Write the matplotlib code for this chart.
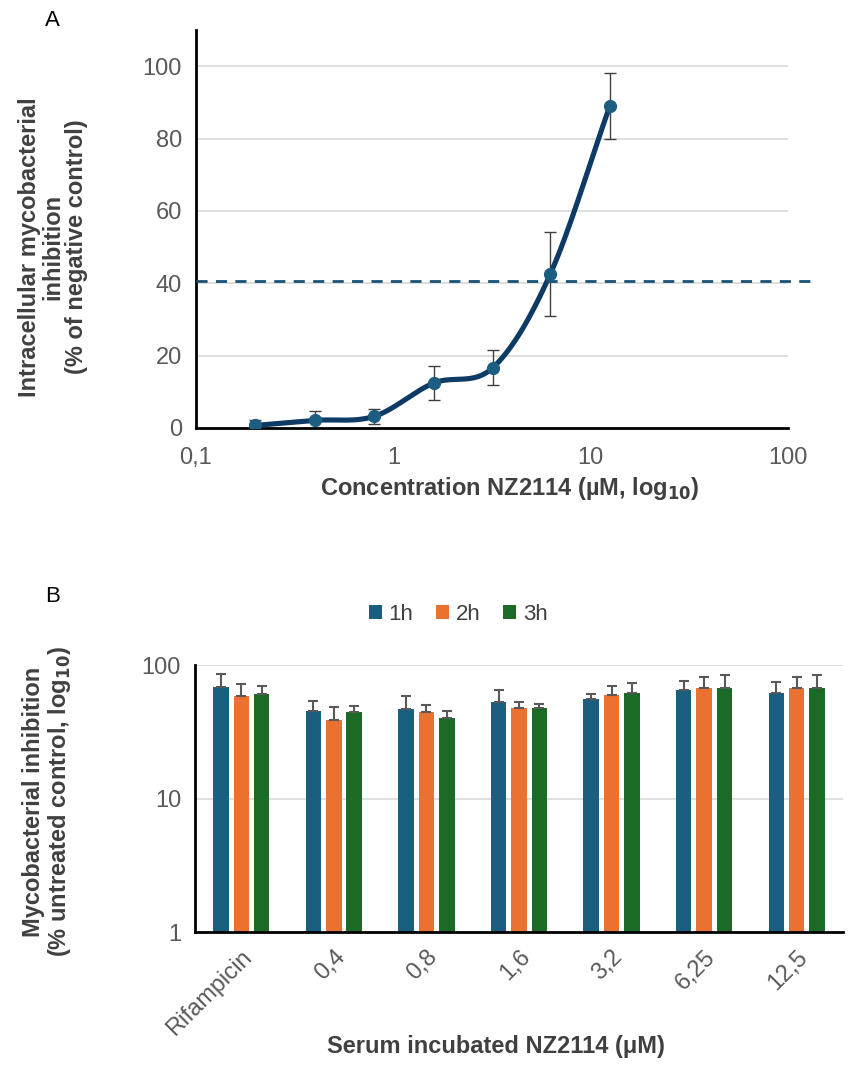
import matplotlib
matplotlib.use('Agg')
import matplotlib.pyplot as plt
import numpy as np

plt.rcParams['font.family'] = ['Liberation Sans', 'DejaVu Sans']

# panel A: dose response
conc = [0.2, 0.4, 0.8, 1.6, 3.2, 6.25, 12.5]
inhib = [0.7, 2.1, 3.2, 12.4, 16.7, 42.6, 89.0]
inhib_sd = [1.6, 2.7, 2.0, 4.6, 4.8, 11.7, 9.1]
threshold = 40.6

# panel B: serum incubated, log scale
groups = ['Rifampicin', '0,4', '0,8', '1,6', '3,2', '6,25', '12,5']
series = ['1h', '2h', '3h']
h1 = [68.5, 45.5, 46.9, 53.0, 56.1, 65.3, 62.0]
h2 = [59.0, 38.9, 44.5, 48.0, 59.2, 67.3, 66.8]
h3 = [60.5, 44.5, 40.0, 48.0, 62.0, 67.3, 67.3]
h1_err = [17.2, 8.7, 11.9, 12.3, 4.1, 10.7, 13.0]
h2_err = [13.0, 9.9, 5.4, 5.0, 10.9, 14.7, 14.7]
h3_err = [9.1, 5.2, 5.0, 3.5, 11.8, 16.6, 17.0]

tick_col = '#595959'
lab_col = '#404040'
grid_col = '#D9D9D9'
bar_cols = ['#1A5E80', '#EA7130', '#1B6B26']
W, H = 851, 1068

fig = plt.figure(figsize=(8.51, 10.68), dpi=100)

#%% panel A
axA = fig.add_axes([0.2303, 0.5993, 0.6957, 0.3726])

# excel-like smooth line (catmull-rom in log x)
lx = np.log10(conc)
yy = np.array(inhib)
px = np.concatenate([[2*lx[0]-lx[1]], lx, [2*lx[-1]-lx[-2]]])
py = np.concatenate([[2*yy[0]-yy[1]], yy, [2*yy[-1]-yy[-2]]])
sx, sy = [], []
t = np.linspace(0, 1, 40)
for i in range(1, len(px)-2):
    mx0 = (px[i+1]-px[i-1])/2
    mx1 = (px[i+2]-px[i])/2
    my0 = (py[i+1]-py[i-1])/2
    my1 = (py[i+2]-py[i])/2
    h00 = 2*t**3 - 3*t**2 + 1
    h10 = t**3 - 2*t**2 + t
    h01 = -2*t**3 + 3*t**2
    h11 = t**3 - t**2
    sx.extend(h00*px[i] + h10*mx0 + h01*px[i+1] + h11*mx1)
    sy.extend(h00*py[i] + h10*my0 + h01*py[i+1] + h11*my1)
sx = 10**np.array(sx)

axA.set_xscale('log')
axA.set_xlim(0.1, 100)
axA.set_ylim(0, 110)
for g in [20, 40, 60, 80, 100]:
    axA.axhline(g, color=grid_col, lw=1.2, zorder=0)
axA.plot(sx, sy, color='#0E3A66', lw=3.7, zorder=3, solid_capstyle='round')
axA.errorbar(conc, inhib, yerr=inhib_sd, fmt='none', ecolor='#404040',
             elinewidth=1, capsize=4, capthick=1, zorder=2)
axA.plot(conc, inhib, 'o', color='#1B5E82', ms=8.5, zorder=4)
axA.plot([0, 1.037], [threshold, threshold], transform=axA.get_yaxis_transform(),
         ls=(0, (4, 3)), color='#1A5276', lw=2, clip_on=False, zorder=3)

axA.set_yticks([0, 20, 40, 60, 80, 100])
axA.set_xticks([0.1, 1, 10, 100])
axA.set_xticklabels(['0,1', '1', '10', '100'])
axA.xaxis.set_minor_locator(matplotlib.ticker.NullLocator())
axA.tick_params(length=0, labelsize=17, labelcolor=tick_col, pad=10)
axA.tick_params(axis='x', pad=14)
for s in ['top', 'right']:
    axA.spines[s].set_visible(False)
for s in ['left', 'bottom']:
    axA.spines[s].set_linewidth(2)
fig.text(53/W, 1-247/H, 'Intracellular mycobacterial\ninhibition\n(% of negative control)',
         rotation=90, ha='center', va='center', fontsize=17, fontweight='bold',
         color=lab_col, linespacing=1.05)
fig.text(510/W, 1-488/H, 'Concentration NZ2114 (µM, log$_{\\mathbf{10}}$)', fontsize=17,
         fontweight='bold', color=lab_col, ha='center', va='center')
fig.text(45/W, 1-20/H, 'A', fontsize=16, ha='left', va='center')

#%% panel B
axB = fig.add_axes([0.2291, 0.1273, 0.7615, 0.25])
x = np.arange(len(groups))
w = 0.167
step = 0.22
vals = [h1, h2, h3]
errs = [h1_err, h2_err, h3_err]
for k in range(3):
    xs = x + (k-1)*step
    axB.bar(xs, vals[k], w, color=bar_cols[k], label=series[k], zorder=2)
    axB.errorbar(xs, vals[k], yerr=[np.zeros(len(groups)), errs[k]], fmt='none',
                 ecolor='#595959', elinewidth=1.5, capsize=3.5, capthick=1.5, zorder=3)
axB.set_yscale('log')
axB.set_ylim(1, 100)
axB.set_xlim(-0.5, len(groups)-0.5)
for g in [10, 100]:
    axB.axhline(g, color=grid_col, lw=1.2, zorder=0)
axB.set_yticks([1, 10, 100])
axB.set_yticklabels(['1', '10', '100'])
axB.yaxis.set_minor_locator(matplotlib.ticker.NullLocator())
axB.set_xticks(x)
axB.set_xticklabels(groups, rotation=45, ha='right', rotation_mode='anchor')
axB.tick_params(length=0, labelsize=17, labelcolor=tick_col, pad=10)
axB.tick_params(axis='x', pad=10)
for s in ['top', 'right']:
    axB.spines[s].set_visible(False)
for s in ['left', 'bottom']:
    axB.spines[s].set_linewidth(2)
fig.text(48/W, 1-802/H, 'Mycobacterial inhibition\n(% untreated control, log$_{\\mathbf{10}}$)',
         rotation=90, ha='center', va='center', fontsize=17, fontweight='bold',
         color=lab_col, linespacing=1.05)
fig.text(496/W, 1-1047/H, 'Serum incubated NZ2114 (μM)', fontsize=17, fontweight='bold',
         color=lab_col, ha='center', va='center')
fig.text(45/W, 1-597/H, 'B', fontsize=16, ha='left', va='center')

leg = fig.legend(loc='center', bbox_to_anchor=(458/W, 1-614/H), ncol=3, frameon=False,
                 fontsize=16, handlelength=0.6, handleheight=0.6, handletextpad=0.3,
                 columnspacing=1.0)
for tx in leg.get_texts():
    tx.set_color(lab_col)

fig.savefig('out.png', dpi=100)
